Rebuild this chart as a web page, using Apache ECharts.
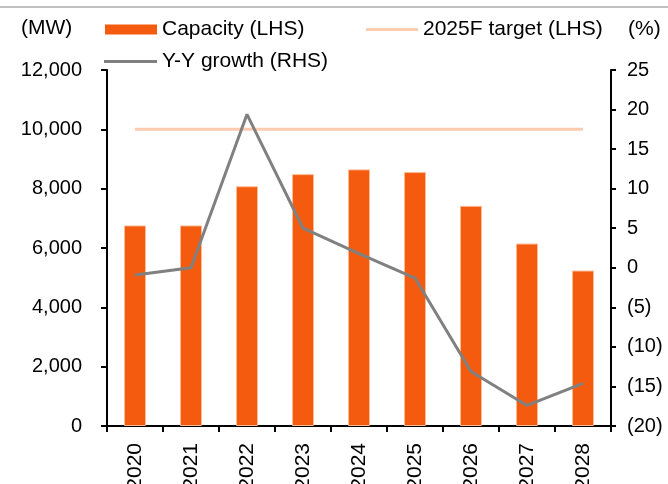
<!DOCTYPE html>
<html>
<head>
<meta charset="utf-8">
<script src="https://cdn.jsdelivr.net/npm/echarts@6/dist/echarts.min.js"></script>
<style>
html,body{margin:0;padding:0;background:#fff;}
#chart{width:668px;height:484px;}
</style>
</head>
<body>
<div id="chart"></div>
<script>
// ---- data ----
const years = ['2020', '2021', '2022', '2023', '2024', '2025', '2026', '2027', '2028'];
const capacity = [6760, 6760, 8080, 8490, 8650, 8560, 7420, 6150, 5240];
const target2025 = [10000, 10000, 10000, 10000, 10000, 10000, 10000, 10000, 10000];
const yoyGrowth = [-0.9, 0.0, 19.4, 5.0, 1.8, -1.3, -13.1, -17.4, -14.6];
const seriesNames = ['Capacity (LHS)', '2025F target (LHS)', 'Y-Y growth (RHS)'];
const leftUnit = '(MW)';
const rightUnit = '(%)';

const FONT = '"Liberation Sans", Arial, sans-serif';
const chart = echarts.init(document.getElementById('chart'), null, {renderer: 'canvas'});

const legendText = {color: '#000', fontSize: 21, fontFamily: FONT};

chart.setOption({
  animation: false,
  backgroundColor: '#fff',
  textStyle: {fontFamily: FONT, color: '#000'},
  grid: {left: 107, right: 57, top: 70, bottom: 58, containLabel: false, outerBoundsMode: 'none'},
  legend: [
    {data: [{name: seriesNames[0], icon: 'rect', itemStyle: {borderWidth: 0}}], left: 105, top: 19, padding: 0, itemWidth: 52, itemHeight: 10, textStyle: legendText, selectedMode: false},
    {data: [{name: seriesNames[1], icon: 'rect'}], left: 366, top: 19, padding: 0, itemWidth: 52, itemHeight: 3, textStyle: legendText, selectedMode: false},
    {data: [{name: seriesNames[2], icon: 'rect'}], left: 104, top: 51, padding: 0, itemWidth: 53, itemHeight: 3, textStyle: legendText, selectedMode: false}
  ],
  graphic: [
    {type: 'line', shape: {x1: 0, y1: 7, x2: 668, y2: 7}, style: {stroke: '#C0C0C0', lineWidth: 2}, silent: true},
    {type: 'text', left: 21, top: 18, style: {text: leftUnit, fill: '#000', font: '21px ' + FONT}},
    {type: 'text', left: 628, top: 19, style: {text: rightUnit, fill: '#000', font: '21px ' + FONT}}
  ],
  xAxis: {
    type: 'category',
    data: years,
    boundaryGap: true,
    axisLine: {show: true, lineStyle: {color: '#000', width: 2}},
    axisTick: {show: true, alignWithLabel: false, interval: 0, length: 6, lineStyle: {color: '#000', width: 2}},
    axisLabel: {interval: 0, rotate: 90, margin: 17, color: '#000', fontSize: 21, fontFamily: FONT},
    splitLine: {show: false}
  },
  yAxis: [
    {
      type: 'value', min: 0, max: 12000, interval: 2000, position: 'left',
      axisLine: {show: true, lineStyle: {color: '#000', width: 2}},
      axisTick: {show: true, inside: false, length: 6, lineStyle: {color: '#000', width: 2}},
      axisLabel: {margin: 25, color: '#000', fontSize: 20, fontFamily: FONT,
        formatter: v => v.toLocaleString('en-US')},
      splitLine: {show: false}
    },
    {
      type: 'value', min: -20, max: 25, interval: 5, position: 'right',
      axisLine: {show: true, lineStyle: {color: '#000', width: 2}},
      axisTick: {show: true, inside: false, length: 5, lineStyle: {color: '#000', width: 2}},
      axisLabel: {margin: 16, color: '#000', fontSize: 20, fontFamily: FONT,
        formatter: v => v < 0 ? '(' + (-v) + ')' : String(v)},
      splitLine: {show: false}
    }
  ],
  series: [
    {
      name: seriesNames[0], type: 'bar', data: capacity, yAxisIndex: 0,
      barWidth: 22,
      itemStyle: {color: '#F55B0E', borderColor: '#FBB994', borderWidth: 1}
    },
    {
      name: seriesNames[1], type: 'line', data: target2025, yAxisIndex: 0,
      symbol: 'none', showSymbol: false,
      lineStyle: {color: '#FDCBB0', width: 3},
      itemStyle: {color: '#FDCBB0'}
    },
    {
      name: seriesNames[2], type: 'line', data: yoyGrowth, yAxisIndex: 1,
      symbol: 'none', showSymbol: false,
      lineStyle: {color: '#808080', width: 3},
      itemStyle: {color: '#808080'}
    }
  ]
});
</script>
</body>
</html>
